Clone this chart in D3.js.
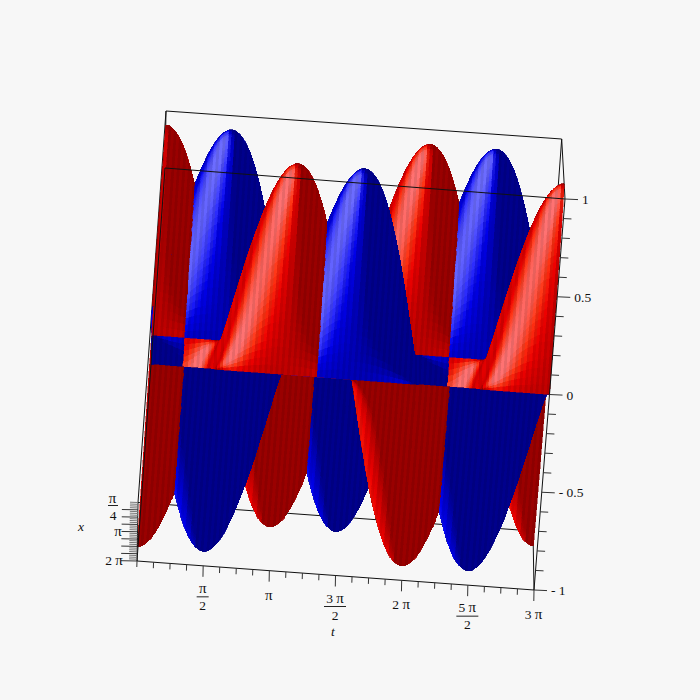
<!DOCTYPE html>
<html><head><meta charset="utf-8">
<script src="https://cdn.jsdelivr.net/npm/d3@7"></script>
<style>html,body{margin:0;padding:0;background:#f7f7f7}svg{display:block}text{font-family:"Liberation Serif",serif;fill:#111;font-size:13.5px}</style>
</head><body><svg id="c" width="700" height="700"></svg>
<script>
// amplitude along t (0..3π) of the two sheets, read from the lobes
const redAlongT=[1,.998,.991,.981,.966,.947,.924,.897,.866,.831,.793,.752,.707,.659,.609,.556,.5,.442,.383,.321,.259,.195,.131,.065,0,
-.065,-.131,-.195,-.259,-.321,-.383,-.442,-.5,-.556,-.609,-.659,-.707,-.752,-.793,-.831,-.866,-.897,-.924,-.947,-.966,-.981,-.991,-.998,-1,
-.998,-.991,-.981,-.966,-.947,-.924,-.897,-.866,-.831,-.793,-.752,-.707,-.659,-.609,-.556,-.5,-.442,-.383,-.321,-.259,-.195,-.131,-.065,0,
.065,.131,.195,.259,.321,.383,.442,.5,.556,.609,.659,.707,.752,.793,.831,.866,.897,.924,.947,.966,.981,.991,.998,1,
.998,.991,.981,.966,.947,.924,.897,.866,.831,.793,.752,.707,.659,.609,.556,.5,.442,.383,.321,.259,.195,.131,.065,0,
-.065,-.131,-.195,-.259,-.321,-.383,-.442,-.5,-.556,-.609,-.659,-.707,-.752,-.793,-.831,-.866,-.897,-.924,-.947,-.966,-.981,-.991,-.998,-1];
const blueAlongT=[0,.065,.131,.195,.259,.321,.383,.442,.5,.556,.609,.659,.707,.752,.793,.831,.866,.897,.924,.947,.966,.981,.991,.998,1,
.998,.991,.981,.966,.947,.924,.897,.866,.831,.793,.752,.707,.659,.609,.556,.5,.442,.383,.321,.259,.195,.131,.065,0,
-.065,-.131,-.195,-.259,-.321,-.383,-.442,-.5,-.556,-.609,-.659,-.707,-.752,-.793,-.831,-.866,-.897,-.924,-.947,-.966,-.981,-.991,-.998,-1,
-.998,-.991,-.981,-.966,-.947,-.924,-.897,-.866,-.831,-.793,-.752,-.707,-.659,-.609,-.556,-.5,-.442,-.383,-.321,-.259,-.195,-.131,-.065,0,
.065,.131,.195,.259,.321,.383,.442,.5,.556,.609,.659,.707,.752,.793,.831,.866,.897,.924,.947,.966,.981,.991,.998,1,
.998,.991,.981,.966,.947,.924,.897,.866,.831,.793,.752,.707,.659,.609,.556,.5,.442,.383,.321,.259,.195,.131,.065,0];
// profile along x (0..2π)
const profileAlongX=[0,.044,.087,.131,.174,.216,.259,.301,.342,.383,.423,.462,.5,.537,.574,.609,.643,.676,.707,.737,.766,.793,.819,.843,.866,.887,.906,.924,.94,.954,.966,.976,.985,.991,.996,.999,
1,.999,.996,.991,.985,.976,.966,.954,.94,.924,.906,.887,.866,.843,.819,.793,.766,.737,.707,.676,.643,.609,.574,.537,.5,.462,.423,.383,.342,.301,.259,.216,.174,.131,.087,.044,0,
-.044,-.087,-.131,-.174,-.216,-.259,-.301,-.342,-.383,-.423,-.462,-.5,-.537,-.574,-.609,-.643,-.676,-.707,-.737,-.766,-.793,-.819,-.843,-.866,-.887,-.906,-.924,-.94,-.954,-.966,-.976,-.985,-.991,-.996,-.999,
-1,-.999,-.996,-.991,-.985,-.976,-.966,-.954,-.94,-.924,-.906,-.887,-.866,-.843,-.819,-.793,-.766,-.737,-.707,-.676,-.643,-.609,-.574,-.537,-.5,-.462,-.423,-.383,-.342,-.301,-.259,-.216,-.174,-.131,-.087,-.044,0];
const tTickPis=[.5,1,1.5,2,2.5,3];
const tTickNums=["π","π","3 π","2 π","5 π","3 π"];
const tTickDens=["2","","2","","2",""];
const zTicks=[1,.5,0,-.5,-1];
const zTickLabels=["1","0.5","0","- 0.5","- 1"];
const sheetNames=["red","blue"];

const svg=d3.select("#c");
const corners={ "000":[138,502.5],"100":[533,531],"010":[137,561],"110":[534,590],
                "001":[166,111],"101":[561.7,139],"011":[165,168],"111":[565,199]};
const uScale=d3.scaleLinear().domain([0,3]).range([0,1]);        // t / π
const vScale=d3.scaleLinear().domain([0,2]).range([0,1]);        // x / π
const wScale=d3.scaleLinear().domain([-1,1]).range([0,1]);       // z
const iToPi=d3.scaleLinear().domain([0,redAlongT.length-1]).range([0,3]);
const jToPi=d3.scaleLinear().domain([0,profileAlongX.length-1]).range([0,2]);
function proj(u,v,w){
  const out=[0,0];
  for(const a of [0,1])for(const b of [0,1])for(const c of [0,1]){
    const k=(a?u:1-u)*(b?v:1-v)*(c?w:1-w),p=corners[""+a+b+c];
    out[0]+=k*p[0];out[1]+=k*p[1];
  }
  return out;
}
const P=(tp,xp,z)=>proj(uScale(tp),vScale(xp),wScale(z));
const norm=a=>{const l=Math.hypot(...a);return a.map(d=>d/l)};
const dot=(a,b)=>a[0]*b[0]+a[1]*b[1]+a[2]*b[2];
const view=norm([0.008,0.989,0.148]);
const light=norm([-.56,.6,.56]);
const sideLight=norm([-1,.05,-.2]);
const ramps={
 red:d3.scaleLinear().domain([0,.5,.72,1]).range(["#9a0000","#ee0000","#ff3412","#ff7272"]).clamp(true),
 blue:d3.scaleLinear().domain([0,.5,.72,1]).range(["#00008c","#0000ea","#3232ff","#6c6cff"]).clamp(true)
};
const alongT={red:redAlongT,blue:blueAlongT};
const cells=[];
const du=uScale(iToPi(1)),dv=vScale(jToPi(1));
for(const name of sheetNames){
  const A=alongT[name];
  for(let i=0;i<A.length-1;i++)for(let j=0;j<profileAlongX.length-1;j++){
    const z00=A[i]*profileAlongX[j],z10=A[i+1]*profileAlongX[j],z01=A[i]*profileAlongX[j+1],z11=A[i+1]*profileAlongX[j+1];
    const w00=wScale(z00),w10=wScale(z10),w01=wScale(z01),w11=wScale(z11);
    const wu=((w10+w11)-(w00+w01))/2/du, wv=((w01+w11)-(w00+w10))/2/dv;
    let n=norm([-wu,-wv,1]);
    if(dot(n,view)<0)n=n.map(d=>-d);
    const d1=Math.max(0,dot(n,light)), d2=Math.max(0,dot(n,sideLight));
    let I=Math.pow(Math.max(0,(d1-.66)/.34),1.1)*1.05;
    I=Math.max(I,(d2-.66)*1.7);
    let col=d3.rgb(ramps[name](I));
    if(i%2) col=col.darker(.26);
    const t0=iToPi(i),t1=iToPi(i+1),x0=jToPi(j),x1=jToPi(j+1);
    const pts=[P(t0,x0,z00),P(t1,x0,z10),P(t1,x1,z11),P(t0,x1,z01)];
    const level=(w00+w10+w01+w11)/4;
    // a facet rising on screen towards the viewer shows its underside: the lower sheet is then the nearer one
    const rising=392*wv-59>0;
    cells.push({pts,row:j,key:rising?-level:level,col:col.formatHex()});
  }
}
cells.sort((a,b)=>a.row-b.row||a.key-b.key);

function seg(g,a,b,stroke="#111",sw=1){g.append("line").attr("x1",a[0]).attr("y1",a[1]).attr("x2",b[0]).attr("y2",b[1]).attr("stroke",stroke).attr("stroke-width",sw);}
function label(g,x,y,str,anchor="middle"){
  const t=g.append("text").attr("x",x).attr("y",y).attr("text-anchor",anchor);
  str.split(/(π)/).filter(s=>s).forEach(s=>{
    const sp=t.append("tspan").text(s);
    if(s==="π")sp.style("font-size","15px");
  });
  return t;
}
const back=svg.append("g");
seg(back,corners["000"],corners["100"]);seg(back,corners["001"],corners["101"]);
seg(back,corners["000"],corners["001"]);seg(back,corners["100"],corners["101"]);
seg(back,corners["100"],corners["110"]);seg(back,corners["101"],corners["111"]);seg(back,corners["001"],corners["011"]);

svg.append("g").attr("shape-rendering","crispEdges").selectAll("path").data(cells).join("path")
  .attr("d",d=>"M"+d.pts.map(p=>p[0].toFixed(1)+","+p[1].toFixed(1)).join("L")+"Z")
  .attr("fill",d=>d.col).attr("stroke",d=>d.col).attr("stroke-width",.5);

const front=svg.append("g");
seg(front,corners["010"],corners["110"]);seg(front,corners["011"],corners["111"]);
seg(front,corners["010"],corners["011"]);seg(front,corners["110"],corners["111"]);
seg(front,corners["010"],corners["000"]);

// t axis
for(const tp of d3.range(0,3.01,.125)){
  const p=P(tp,2,-1),maj=Math.abs(tp*2-Math.round(tp*2))<1e-6&&tp>0;
  seg(front,p,[p[0]-.2,p[1]+(maj?11:6)],"#333");
}
tTickPis.forEach((tp,i)=>{
  const p=P(tp,2,-1),cx=p[0]-.5,frac=tTickDens[i]!=="";
  const y=p[1]+(frac?27:29);
  label(front,cx,y,tTickNums[i]);
  if(frac){
    const w=tTickNums[i].length>1?11:6;
    seg(front,[cx-w,y+4],[cx+w,y+4],"#222");
    label(front,cx,y+17,tTickDens[i]);
  }
});
front.append("text").attr("x",333).attr("y",636).attr("text-anchor","middle").attr("font-style","italic").text("t");
// z axis
for(const z of d3.range(-1,1.001,.1)){
  const p=P(3,2,z),maj=Math.abs(z*2-Math.round(z*2))<1e-6;
  seg(front,p,[p[0]+(maj?13:8),p[1]+(maj?.6:.4)],"#333");
}
zTicks.forEach((z,i)=>{
  const p=P(3,2,z);
  label(front,p[0]+17,p[1]+5,zTickLabels[i],"start");
});
// x axis
for(const xp of d3.range(0,2.001,.0625)){
  const p=P(0,xp,-1),maj=Math.abs(xp*4-Math.round(xp*4))<1e-6&&xp>0;
  seg(front,p,[p[0]-(maj?16:8),p[1]-.3],maj?"#333":"#777");
}
label(front,112.5,503,"π");
seg(front,[108,505.5],[118,505.5],"#222");
label(front,113,520,"4");
label(front,118,536,"π");
label(front,114,565,"2 π");
front.append("text").attr("x",81).attr("y",531).attr("text-anchor","middle").attr("font-style","italic").text("x");
</script></body></html>
